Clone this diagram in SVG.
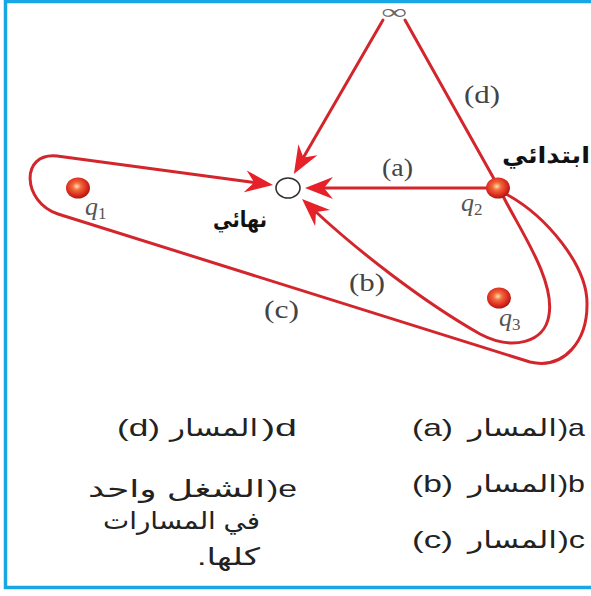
<svg xmlns="http://www.w3.org/2000/svg" width="591" height="596" viewBox="0 0 591 596">
<style>
.path{fill:none;stroke:#d3262c;stroke-width:3;stroke-linejoin:round;stroke-linecap:round}
.lbl{font-family:"Liberation Serif","DejaVu Serif",serif;font-size:25px;fill:#444}
.q{font-family:"Liberation Serif","DejaVu Serif",serif;font-style:italic;font-size:26px;fill:#555}
.qs{font-style:normal;font-size:17px}
.ar{font-family:"DejaVu Sans","Noto Sans",sans-serif;font-weight:bold;fill:#111}
.opt{font-family:"Liberation Sans","DejaVu Sans",sans-serif;font-size:24px;fill:#222}
.ball{fill:url(#ballg)}
</style>
<defs>
<radialGradient id="ballg" cx="45%" cy="42%" r="60%">
<stop offset="0%" stop-color="#ffe0b0"/>
<stop offset="30%" stop-color="#f26a3c"/>
<stop offset="75%" stop-color="#d8261c"/>
<stop offset="100%" stop-color="#a5150f"/>
</radialGradient>
<marker id="arr" markerUnits="userSpaceOnUse" markerWidth="30" markerHeight="24" viewBox="0 -12 30 24" refX="9" refY="0" orient="auto">
<path d="M28,0 L0,-11 L9,0 L0,11 Z" fill="#e62129"/>
</marker>
</defs>
<path d="M595,1.5 H5.5 V587.5 H595" fill="none" stroke="#19a6e4" stroke-width="3.5"/>
<g id="connectors">
<path id="path-a" class="path" d="M490,188 L324,188" marker-end="url(#arr)"/>
<path id="path-d1" class="path" d="M498,186 L405,20"/>
<path id="path-d2" class="path" d="M383,20 L303.4,157.5" marker-end="url(#arr)"/>
<path id="path-b" class="path" d="M503,196 C520,230 555,280 549,315 C545,343 512,351 480,334 C420,300 355,248 316,212" marker-end="url(#arr)"/>
<path id="path-c" class="path" d="M506,194 C545,215 588,265 587,305 C587,340 565,370 530,362 L58,214 C22,202 20,152 57,156 L254.2,182.5" marker-end="url(#arr)"/>
</g>
<g id="labels">
<text class="lbl" x="382" y="176" textLength="31" lengthAdjust="spacingAndGlyphs">(a)</text>
<text class="lbl" x="349" y="291" textLength="36" lengthAdjust="spacingAndGlyphs">(b)</text>
<text class="lbl" x="264" y="318" textLength="35" lengthAdjust="spacingAndGlyphs">(c)</text>
<text class="lbl" x="464" y="103" textLength="36" lengthAdjust="spacingAndGlyphs">(d)</text>
</g>
<g id="node-inf">
<text x="381" y="19" font-family="Liberation Serif, DejaVu Serif, serif" font-size="21" fill="#666" textLength="26" lengthAdjust="spacingAndGlyphs">∞</text>
</g>
<g id="node-final">
<ellipse cx="288" cy="188" rx="12" ry="10" fill="#fff" stroke="#333" stroke-width="1.6"/>
<text class="ar" x="213" y="227" font-size="22" textLength="54" lengthAdjust="spacingAndGlyphs">نهائي</text>
</g>
<g id="node-q1">
<ellipse class="ball" cx="78" cy="188" rx="12" ry="10.5"/>
<text class="q" x="85" y="215">q<tspan class="qs" dy="4">1</tspan></text>
</g>
<g id="node-q2">
<ellipse class="ball" cx="498" cy="188" rx="12" ry="10.5"/>
<text class="q" x="461" y="211">q<tspan class="qs" dy="4">2</tspan></text>
<text class="ar" x="502" y="163" font-size="23" textLength="88" lengthAdjust="spacingAndGlyphs">ابتدائي</text>
</g>
<g id="node-q3">
<ellipse class="ball" cx="499" cy="298" rx="12" ry="10.5"/>
<text class="q" x="499" y="326">q<tspan class="qs" dy="4">3</tspan></text>
</g>
<g id="options">
<text class="opt" x="412" y="436" textLength="41" lengthAdjust="spacingAndGlyphs">(a)</text>
<text class="opt" x="468" y="436" textLength="89" lengthAdjust="spacingAndGlyphs">المسار</text>
<text class="opt" x="558" y="436" textLength="27" lengthAdjust="spacingAndGlyphs">)a</text>
<text class="opt" x="412" y="492" textLength="41" lengthAdjust="spacingAndGlyphs">(b)</text>
<text class="opt" x="468" y="492" textLength="89" lengthAdjust="spacingAndGlyphs">المسار</text>
<text class="opt" x="558" y="492" textLength="27" lengthAdjust="spacingAndGlyphs">)b</text>
<text class="opt" x="412" y="548" textLength="41" lengthAdjust="spacingAndGlyphs">(c)</text>
<text class="opt" x="468" y="548" textLength="89" lengthAdjust="spacingAndGlyphs">المسار</text>
<text class="opt" x="558" y="548" textLength="27" lengthAdjust="spacingAndGlyphs">)c</text>
<text class="opt" x="117" y="436" textLength="43" lengthAdjust="spacingAndGlyphs">(d)</text>
<text class="opt" x="170" y="436" textLength="88" lengthAdjust="spacingAndGlyphs">المسار</text>
<text class="opt" x="262" y="436" textLength="35" lengthAdjust="spacingAndGlyphs">)d</text>
<text class="opt" x="88" y="497" textLength="177" lengthAdjust="spacingAndGlyphs">الشغل واحد</text>
<text class="opt" x="267" y="497" textLength="30" lengthAdjust="spacingAndGlyphs">)e</text>
<text class="opt" x="103" y="529" textLength="157" lengthAdjust="spacingAndGlyphs">في المسارات</text>
<text class="opt" x="197" y="565" textLength="63" lengthAdjust="spacingAndGlyphs">كلها.&#x200F;</text>
</g>
</svg>
